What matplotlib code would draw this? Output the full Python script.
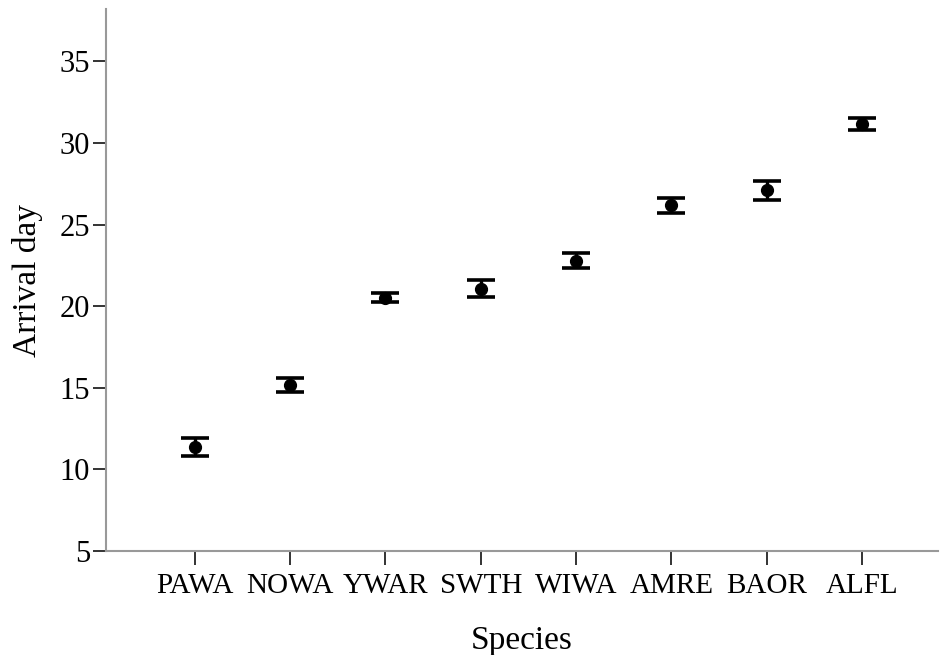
import numpy as np
import matplotlib.pyplot as plt

# valores (média e erro)
species = ['PAWA', 'NOWA', 'YWAR', 'SWTH', 'WIWA', 'AMRE', 'BAOR', 'ALFL']
arrival_mean = [11.35, 15.14, 20.52, 21.07, 22.79, 26.17, 27.10, 31.18]
arrival_err = [0.55, 0.43, 0.28, 0.52, 0.46, 0.46, 0.58, 0.37]
yticks = [5, 10, 15, 20, 25, 30, 35]

plt.rcParams['font.family'] = ['Liberation Serif', 'DejaVu Serif']

fig = plt.figure(figsize=(9.4, 6.55), dpi=100)
ax = fig.add_axes([0.113, 0.159, 0.885, 0.827])

x = np.arange(len(species))
ax.errorbar(x, arrival_mean, yerr=arrival_err, fmt='o', color='black',
            markersize=8.5, elinewidth=2.4, capsize=10, capthick=2.6)

ax.set_xlim(-0.93, 7.8)
ax.set_ylim(5, 38.2)
ax.set_yticks(yticks)
ax.set_xticks(x)
ax.set_xticklabels(species)

for side in ['top', 'right']:
    ax.spines[side].set_visible(False)
for side in ['left', 'bottom']:
    ax.spines[side].set_color('#999999')
    ax.spines[side].set_linewidth(1.5)

ax.tick_params(axis='y', direction='out', length=9.5, width=1.4, color='#333333',
               labelsize=22, pad=2)
ax.tick_params(axis='x', direction='out', length=10, width=1.4, color='#333333',
               labelsize=21, pad=6)

ax.set_xlabel('Species', fontsize=24, labelpad=19)
ax.set_ylabel('Arrival day', fontsize=24, labelpad=12)

fig.savefig('out.png', dpi=100)
